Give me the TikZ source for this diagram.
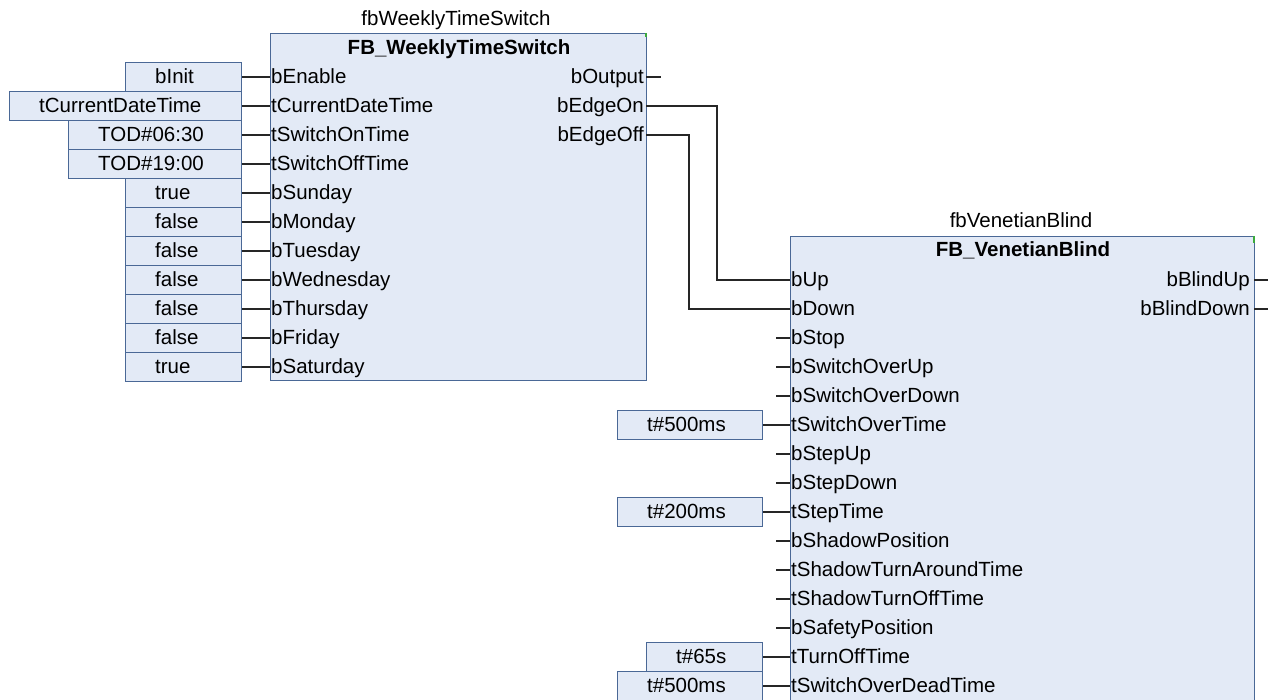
\documentclass[tikz,border=0pt]{standalone}
\usepackage{fontspec}
\setmainfont{Liberation Sans}
\definecolor{fbfill}{RGB}{227,234,246}
\definecolor{fbline}{RGB}{74,104,150}
\definecolor{fbgreen}{RGB}{60,170,60}
\begin{document}
\begin{tikzpicture}[x=1pt,y=-1pt,
  font=\fontsize{20.5}{24}\selectfont,
  fbbox/.style={draw=fbline, fill=fbfill, line width=1.4pt, inner sep=0pt, anchor=north west},
  valbox/.style={draw=fbline, fill=fbfill, line width=1.4pt, inner sep=0pt, minimum height=29pt, anchor=west},
  txt/.style={inner sep=0pt, text height=16pt, text depth=3pt},
  pinlbl/.style={txt, anchor=west},
  outlbl/.style={txt, anchor=east},
  vallbl/.style={txt, anchor=west},
  title/.style={txt, anchor=center},
  wire/.style={line width=1.4pt, black!85},
  corner/.style={line width=1.4pt, fbgreen}]
\useasboundingbox (0,0) rectangle (1271,700);

% ---------------- FB_WeeklyTimeSwitch ----------------
\node[fbbox, minimum width=376pt, minimum height=347pt] (ws) at (270,33) {};
\draw[corner] (646,33) -- (646,37);
\node[title] (wsinst) at (456,19.5) {fbWeeklyTimeSwitch};
\node[title, font=\fontsize{20.5}{24}\selectfont\bfseries] (wstype) at (459,48.5) {FB\_WeeklyTimeSwitch};

\foreach \n [count=\i from 0] in {bEnable,tCurrentDateTime,tSwitchOnTime,tSwitchOffTime,bSunday,bMonday,bTuesday,bWednesday,bThursday,bFriday,bSaturday} {
  \coordinate (wsin\i) at (270,{77+29*\i});
  \node[pinlbl] (wsl\i) at (271,{77+29*\i}) {\n};
}

\foreach \v/\l [count=\i from 0] in {bInit/125,tCurrentDateTime/9,TOD\#06:30/68,TOD\#19:00/68,true/125,false/125,false/125,false/125,false/125,false/125,true/125} {
  \node[valbox, minimum width={241-\l}] (wsv\i) at (\l,{77+29*\i}) {};
  \node[vallbl] (wst\i) at ([xshift=30pt]wsv\i.west) {\v};
  \draw[wire] (wsv\i.east) -- (wsin\i);
}

\foreach \n [count=\i from 0] in {bOutput,bEdgeOn,bEdgeOff} {
  \coordinate (wsout\i) at (646,{77+29*\i});
  \node[outlbl] (wso\i) at (644,{77+29*\i}) {\n};
}
\coordinate (wsoutend0) at (661,77);
\draw[wire] (wsout0) -- (wsoutend0);

% ---------------- FB_VenetianBlind ----------------
\node[fbbox, minimum width=464pt, minimum height=490pt] (vb) at (790,236) {};
\draw[corner] (1254,236) -- (1254,243);
\node[title] (vbinst) at (1021,221) {fbVenetianBlind};
\node[title, font=\fontsize{20.5}{24}\selectfont\bfseries] (vbtype) at (1023,250) {FB\_VenetianBlind};

\foreach \n [count=\j from 0] in {bUp,bDown,bStop,bSwitchOverUp,bSwitchOverDown,tSwitchOverTime,bStepUp,bStepDown,tStepTime,bShadowPosition,tShadowTurnAroundTime,tShadowTurnOffTime,bSafetyPosition,tTurnOffTime,tSwitchOverDeadTime} {
  \coordinate (vbin\j) at (790,{280+29*\j});
  \node[pinlbl] (vbl\j) at (791,{280+29*\j}) {\n};
}

% unconnected input stubs
\foreach \j in {2,3,4,6,7,9,10,11,12} {
  \coordinate (vbstub\j) at (776,{280+29*\j});
  \draw[wire] (vbstub\j) -- (vbin\j);
}

% value boxes
\foreach \v/\l/\j in {t\#500ms/617/5,t\#200ms/617/8,t\#65s/646/13,t\#500ms/617/14} {
  \node[valbox, minimum width={762-\l}] (vbv\j) at (\l,{280+29*\j}) {};
  \node[vallbl] (vbt\j) at ([xshift=30pt]vbv\j.west) {\v};
  \draw[wire] (vbv\j.east) -- (vbin\j);
}

% outputs
\foreach \n [count=\i from 0] in {bBlindUp,bBlindDown} {
  \coordinate (vbout\i) at (1254,{280+29*\i});
  \coordinate (vboutend\i) at (1268,{280+29*\i});
  \node[outlbl] (vbo\i) at (1250,{280+29*\i}) {\n};
  \draw[wire] (vbout\i) -- (vboutend\i);
}

% ---------------- connections ----------------
\coordinate (bend1) at (717,106);
\coordinate (bend2) at (689,135);
\draw[wire] (wsout1) -- (bend1) |- (vbin0);
\draw[wire] (wsout2) -- (bend2) |- (vbin1);
\end{tikzpicture}
\end{document}
